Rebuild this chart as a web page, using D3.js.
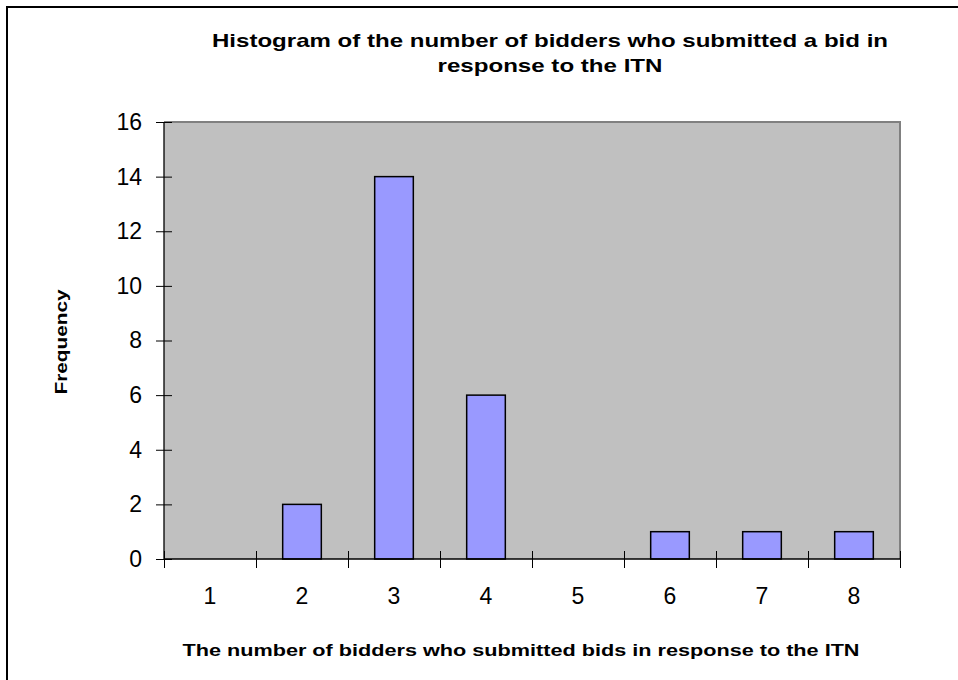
<html>
<script src="https://d3js.org/d3.v7.min.js"></script>
<style>
  body { margin: 0; background: #fff; }
  text { font-family: Arial, "Liberation Sans", sans-serif; }
</style>
<body></body>
<script>
const categories = ['1', '2', '3', '4', '5', '6', '7', '8'];
const frequency = [0, 2, 14, 6, 0, 1, 1, 1];
const yTicks = [0, 2, 4, 6, 8, 10, 12, 14, 16];

const width = 958;
const height = 680;
const plot = {left: 164, right: 900, top: 122, bottom: 559};

const svg = d3.select('body')
    .append('svg')
        .attr('width', width)
        .attr('height', height);

// outer chart border (only top/left visible in the crop)
svg.append('rect')
    .attr('x', 7).attr('y', 7)
    .attr('width', 1000).attr('height', 1000)
    .attr('fill', 'none')
    .attr('stroke', '#000')
    .attr('stroke-width', 2);

const x = d3.scaleBand()
    .domain(categories)
    .range([plot.left, plot.right])
    .paddingInner(0.58)
    .paddingOuter(0.29);

const xEdge = d3.scaleLinear()
    .domain([0, categories.length])
    .range([plot.left, plot.right]);

const y = d3.scaleLinear()
    .domain([0, 16])
    .range([plot.bottom, plot.top]);

// plot area
svg.append('rect')
    .attr('x', plot.left).attr('y', plot.top)
    .attr('width', plot.right - plot.left)
    .attr('height', plot.bottom - plot.top)
    .attr('fill', '#c0c0c0');
svg.append('path')
    .attr('d', `M${plot.left},${plot.top}H${plot.right}V${plot.bottom}`)
    .attr('fill', 'none')
    .attr('stroke', '#808080')
    .attr('stroke-width', 2);

// bars (empty categories get no bar)
const bars = categories
    .map((c, i) => ({cat: c, value: frequency[i]}))
    .filter(d => d.value > 0);

svg.append('g')
    .selectAll('rect')
    .data(bars)
    .enter()
    .append('rect')
        .attr('x', d => x(d.cat))
        .attr('y', d => y(d.value))
        .attr('width', x.bandwidth())
        .attr('height', d => y(0) - y(d.value))
        .attr('fill', '#9999ff')
        .attr('stroke', '#000')
        .attr('stroke-width', 1.5);

// y axis
const yAxis = svg.append('g')
    .attr('transform', `translate(${plot.left},0)`)
    .call(d3.axisLeft(y).tickValues(yTicks).tickSize(8).tickPadding(14));
yAxis.selectAll('.tick line').attr('x2', 8).attr('x1', -8);
yAxis.select('.domain').attr('d', `M0,${plot.top}V${plot.bottom}`).attr('stroke-width', 1.3);
yAxis.selectAll('text')
    .attr('font-size', 23)
    .attr('font-family', 'Arial, "Liberation Sans", sans-serif')
    .attr('fill', '#000');

// x axis: tick marks at the category edges
const xTickAxis = svg.append('g')
    .attr('transform', `translate(0,${plot.bottom})`)
    .call(d3.axisBottom(xEdge).tickValues(d3.range(categories.length + 1)).tickFormat('').tickSize(9));
xTickAxis.selectAll('.tick line').attr('y1', -8);
xTickAxis.select('.domain').attr('d', `M${plot.left},0H${plot.right}`).attr('stroke-width', 1.3);

// x axis labels
const xLabelAxis = svg.append('g')
    .attr('transform', `translate(0,${plot.bottom})`)
    .call(d3.axisBottom(x).tickSize(0).tickPadding(29));
xLabelAxis.select('.domain').remove();
xLabelAxis.selectAll('text')
    .attr('font-size', 23)
    .attr('font-family', 'Arial, "Liberation Sans", sans-serif')
    .attr('fill', '#000');

// titles
const title = svg.append('text')
    .attr('text-anchor', 'middle')
    .attr('font-weight', 'bold')
    .attr('font-size', 19);
title.append('tspan')
    .attr('x', 550).attr('y', 47)
    .attr('textLength', 676).attr('lengthAdjust', 'spacingAndGlyphs')
    .text('Histogram of the number of bidders who submitted a bid in');
title.append('tspan')
    .attr('x', 550).attr('y', 72)
    .attr('textLength', 225).attr('lengthAdjust', 'spacingAndGlyphs')
    .text('response to the ITN');

svg.append('text')
    .attr('x', 521).attr('y', 656)
    .attr('text-anchor', 'middle')
    .attr('font-weight', 'bold')
    .attr('font-size', 17)
    .attr('textLength', 677).attr('lengthAdjust', 'spacingAndGlyphs')
    .text('The number of bidders who submitted bids in response to the ITN');

svg.append('text')
    .attr('transform', 'translate(67,342) rotate(-90)')
    .attr('text-anchor', 'middle')
    .attr('font-weight', 'bold')
    .attr('font-size', 17)
    .attr('textLength', 105).attr('lengthAdjust', 'spacingAndGlyphs')
    .text('Frequency');
</script>
</html>
